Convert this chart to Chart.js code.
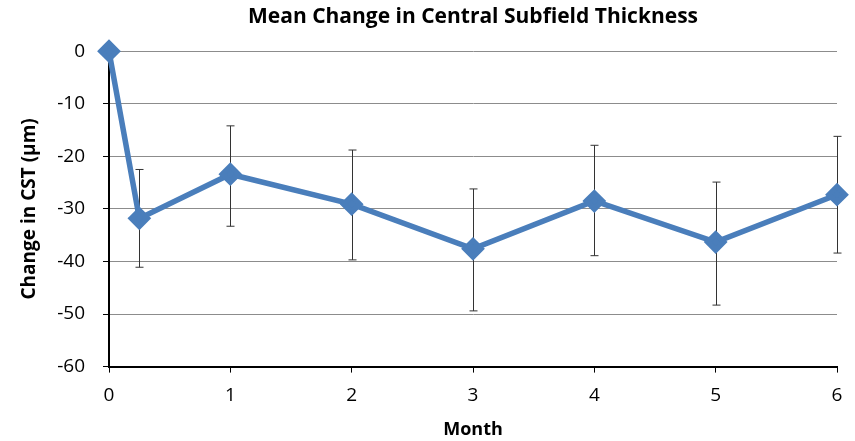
<!DOCTYPE html>
<html>
<head>
<meta charset="utf-8">
<script src="https://cdn.jsdelivr.net/npm/chart.js@4"></script>
<style>
  body { margin: 0; background: #fff; }
  #wrap { width: 855px; height: 441px; }
</style>
</head>
<body>
<div id="wrap"><canvas id="grafico"></canvas></div>
<script>
// dados
const meses = [0, 0.25, 1, 2, 3, 4, 5, 6];
const mediaCST = [0, -31.8, -23.4, -29.1, -37.6, -28.5, -36.3, -27.3];
const erroTopo = [null, -22.5, -14.2, -18.8, -26.2, -17.9, -24.9, -16.2];
const erroBase = [null, -41.1, -33.3, -39.7, -49.4, -38.9, -48.3, -38.4];

const fonte = "'Open Sans', 'Liberation Sans', sans-serif";

// barras de erro desenhadas pelas escalas
const barrasErro = {
  id: "barrasErro",
  beforeDatasetsDraw(chart) {
    const ctx = chart.ctx;
    const x = chart.scales.x, y = chart.scales.y;
    ctx.save();
    ctx.strokeStyle = "#333";
    ctx.lineWidth = 1;
    for (let i = 0; i < meses.length; i++) {
      if (erroTopo[i] == null) continue;
      const px = Math.round(x.getPixelForValue(meses[i])) + 0.5;
      const y1 = y.getPixelForValue(erroTopo[i]);
      const y2 = y.getPixelForValue(erroBase[i]);
      ctx.beginPath();
      ctx.moveTo(px, y1); ctx.lineTo(px, y2);
      ctx.moveTo(px - 4, y1); ctx.lineTo(px + 4, y1);
      ctx.moveTo(px - 4, y2); ctx.lineTo(px + 4, y2);
      ctx.stroke();
    }
    ctx.restore();
  }
};

new Chart(document.getElementById("grafico"), {
  type: "line",
  data: {
    datasets: [{
      data: meses.map((m, i) => ({ x: m, y: mediaCST[i] })),
      borderColor: "#4A7EBB",
      backgroundColor: "#4A7EBB",
      borderWidth: 5.5,
      pointStyle: "rectRot",
      pointRadius: 8,
      pointHoverRadius: 8,
      tension: 0,
      clip: false
    }]
  },
  options: {
    responsive: true,
    maintainAspectRatio: false,
    animation: false,
    layout: { padding: { left: 10, right: 18, top: 0, bottom: 0 } },
    plugins: {
      legend: { display: false },
      tooltip: { enabled: false },
      title: {
        display: true,
        fullSize: false,
        text: "Mean Change in Central Subfield Thickness",
        color: "#000",
        font: { family: fonte, size: 21, weight: "bold" },
        padding: { top: 4, bottom: 22 }
      }
    },
    scales: {
      x: {
        type: "linear",
        min: 0, max: 6,
        ticks: { stepSize: 1, color: "#000", font: { family: fonte, size: 19 }, padding: 12 },
        grid: { drawOnChartArea: false, drawTicks: true, tickLength: 6, tickColor: "#000" },
        border: { color: "#000", width: 2 },
        title: { display: true, text: "Month", color: "#000", font: { family: fonte, size: 18, weight: "bold" }, padding: { top: 0, bottom: 0 } }
      },
      y: {
        min: -60, max: 0,
        ticks: { stepSize: 10, color: "#000", font: { family: fonte, size: 19 }, padding: 18 },
        grid: { color: "#8c8c8c", tickColor: "#000", tickLength: 6 },
        border: { color: "#000", width: 2 },
        title: { display: true, text: "Change in CST (µm)", color: "#000", font: { family: fonte, size: 19, weight: "bold" }, padding: { top: 8, bottom: 0 } },
        afterFit(scale) { scale.width = 99; }
      }
    }
  },
  plugins: [barrasErro]
});
</script>
</body>
</html>
